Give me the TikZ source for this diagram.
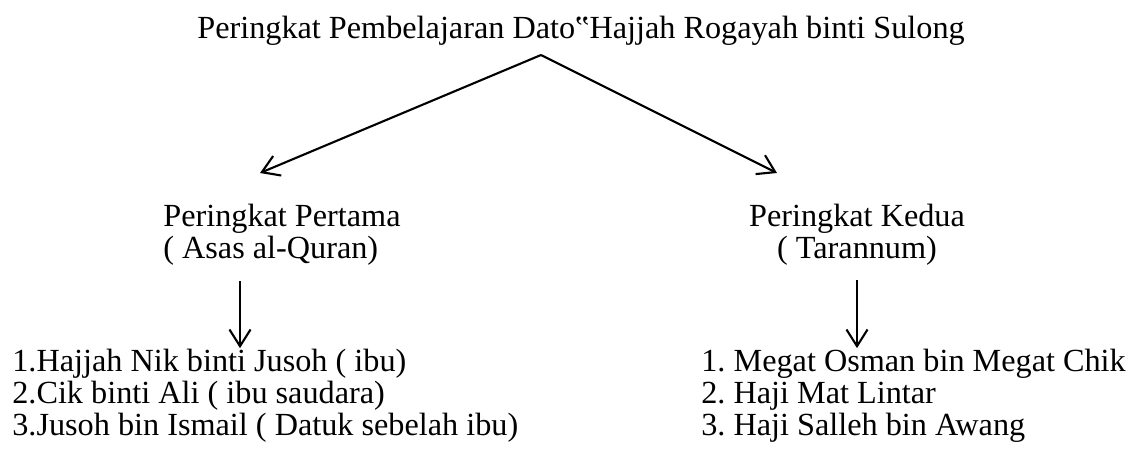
\documentclass[tikz,border=0pt]{standalone}
\usepackage{fontspec}
\setmainfont{Liberation Serif}
\usetikzlibrary{arrows.meta}
\tikzset{
  txt/.style={inner sep=0pt, font=\fontsize{18.35}{18}\selectfont},
  link/.style={->, line width=1.2pt}
}
\frenchspacing
\begin{document}
\begin{tikzpicture}[x=0.02cm, y=-0.02cm, >={Straight Barb[length=9.5pt,width=12pt,line width=1.2pt]}]
\useasboundingbox (0,0) rectangle (1130,450);

% title
\node[txt, anchor=base west] (title) at (197,38) {Peringkat Pembelajaran Dato‟Hajjah Rogayah binti Sulong};
\coordinate (apex) at (541,55);

% two levels
\node[txt, anchor=base west, align=left] (first) at (163,258) {Peringkat Pertama\\( Asas al-Quran)};
\node[txt, anchor=base, align=center] (second) at (857,258) {Peringkat Kedua\\( Tarannum)};
\coordinate (firsttip) at (260,173);
\coordinate (secondtip) at (777,173);

% teachers
\node[txt, anchor=base west, align=left] (firstlist) at (12,435) {1.Hajjah Nik binti Jusoh ( ibu)\\2.Cik binti Ali ( ibu saudara)\\3.Jusoh bin Ismail ( Datuk sebelah ibu)};
\node[txt, anchor=base west, align=left] (secondlist) at (701,435) {1. Megat Osman bin Megat Chik\\2. Haji Mat Lintar\\3. Haji Salleh bin Awang};

% arrows
\draw[link] (apex) -- (firsttip);
\draw[link] (apex) -- (secondtip);
\draw[link, shorten <=9pt, shorten >=0.5pt] (first.south -| 240,0) -- (firstlist.north -| 240,0);
\draw[link, shorten <=8.5pt, shorten >=0.5pt] (second.south) -- (secondlist.north -| second.south);
\end{tikzpicture}
\end{document}
